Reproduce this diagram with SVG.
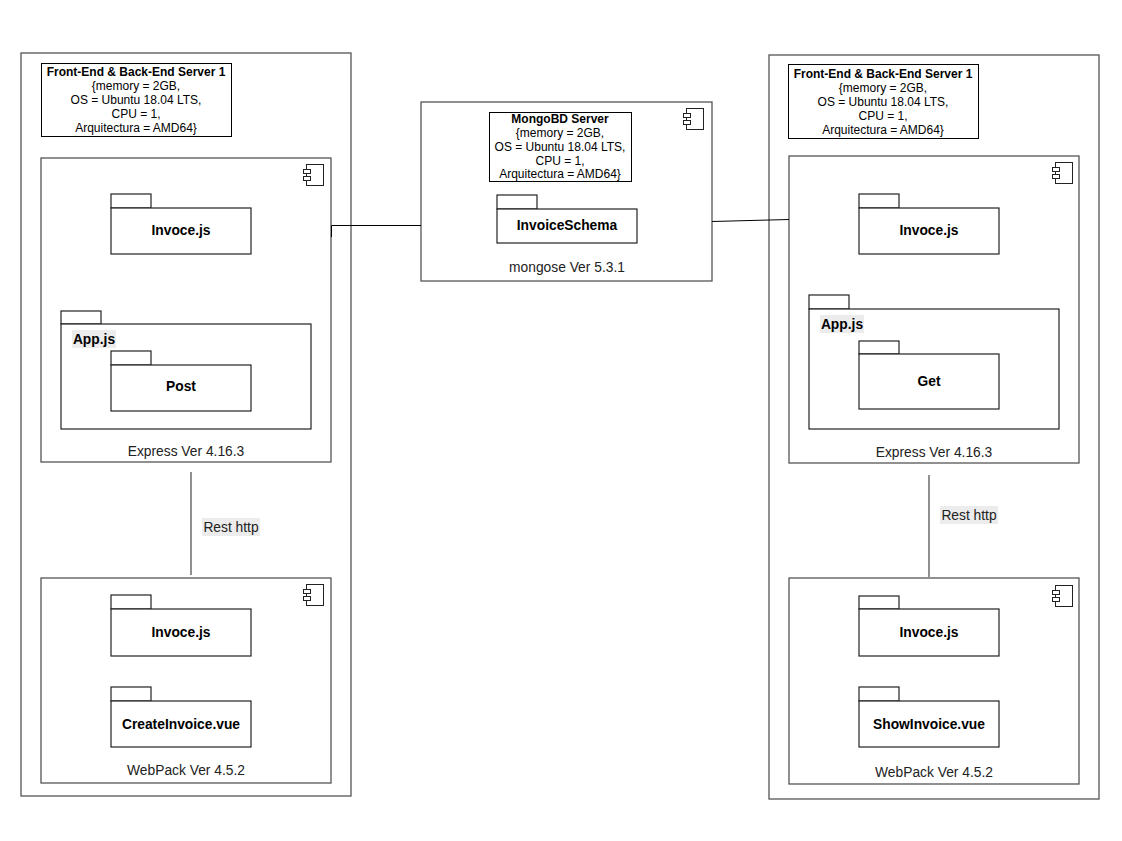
<svg xmlns="http://www.w3.org/2000/svg" xmlns:xlink="http://www.w3.org/1999/xlink" width="1122" height="841" viewBox="0 0 1122 841">
<style>
.node{fill:#fff;stroke:#555;stroke-width:1.3}
.hdr{fill:#fff;stroke:#000;stroke-width:1}
.pkg{fill:#fff;stroke:#222;stroke-width:1.2}
.t{font-family:"Liberation Sans",Arial,sans-serif;font-size:12px;fill:#000;text-anchor:middle;dominant-baseline:central}
.l{font-size:13.8px}
.lg{font-size:13.8px;fill:#222}
.b{font-weight:bold}
.lblbg{fill:#ececec}
.conn{fill:none;stroke:#000;stroke-width:1}
.conn2{fill:none;stroke:#555;stroke-width:1.3}
</style>
<defs>
<g id="icon">
<rect x="3" y="0" width="17" height="21" fill="#fff" stroke="#222" stroke-width="1"/>
<rect x="0" y="5" width="7" height="4" fill="#fff" stroke="#222" stroke-width="1"/>
<rect x="0" y="12" width="7" height="4" fill="#fff" stroke="#222" stroke-width="1"/>
</g>
</defs>
<rect width="1122" height="841" fill="#fff"/>

<g id="left-server">
<rect class="node" x="21" y="53" width="330" height="743"/>
<rect class="hdr" x="41.5" y="63.5" width="190" height="73"/>
<text class="t b" x="136" y="72">Front-End &amp; Back-End Server 1</text>
<text class="t" x="136" y="86">{memory = 2GB,</text>
<text class="t" x="136" y="100">OS = Ubuntu 18.04 LTS,</text>
<text class="t" x="136" y="114">CPU = 1,</text>
<text class="t" x="136" y="128">Arquitectura = AMD64}</text>
</g>

<g id="left-express">
<rect class="node" x="41" y="158" width="290" height="304"/>
<use xlink:href="#icon" x="303.5" y="164.5"/>
<g id="left-invoce">
<rect class="pkg" x="111" y="194" width="40" height="14"/>
<rect class="pkg" x="111" y="208" width="140" height="46"/>
<text class="t l b" x="181" y="230">Invoce.js</text>
</g>
<g id="left-app">
<rect class="pkg" x="61" y="311" width="40" height="13"/>
<rect class="pkg" x="61" y="324" width="250" height="105"/>
<rect class="lblbg" x="72" y="330" width="44" height="18"/>
<text class="t l b" x="94" y="339">App.js</text>
</g>
<g id="left-post">
<rect class="pkg" x="111" y="351" width="40" height="14"/>
<rect class="pkg" x="111" y="365" width="140" height="46"/>
<text class="t l b" x="181" y="386">Post</text>
</g>
<text class="t lg" x="186" y="451">Express Ver 4.16.3</text>
</g>

<g id="left-webpack">
<rect class="node" x="41" y="578" width="290" height="205"/>
<use xlink:href="#icon" x="303.5" y="584.5"/>
<g id="left-invoce2">
<rect class="pkg" x="111" y="595" width="40" height="14"/>
<rect class="pkg" x="111" y="609" width="140" height="47"/>
<text class="t l b" x="181" y="632">Invoce.js</text>
</g>
<g id="left-create">
<rect class="pkg" x="111" y="687" width="40" height="14"/>
<rect class="pkg" x="111" y="701" width="140" height="46"/>
<text class="t l b" x="181" y="724">CreateInvoice.vue</text>
</g>
<text class="t lg" x="186" y="770">WebPack Ver 4.5.2</text>
</g>

<g id="mongo">
<rect class="node" x="421" y="102" width="291" height="179"/>
<rect class="hdr" x="489.5" y="112.5" width="142" height="69"/>
<text class="t b" x="560" y="119">MongoBD Server</text>
<text class="t" x="560" y="133">{memory = 2GB,</text>
<text class="t" x="560" y="147">OS = Ubuntu 18.04 LTS,</text>
<text class="t" x="560" y="161">CPU = 1,</text>
<text class="t" x="560" y="174">Arquitectura = AMD64}</text>
<use xlink:href="#icon" x="683.5" y="108.5"/>
<g id="mongo-schema">
<rect class="pkg" x="497" y="195" width="40" height="14"/>
<rect class="pkg" x="497" y="209" width="140" height="34"/>
<text class="t l b" x="567" y="225">InvoiceSchema</text>
</g>
<text class="t lg" x="567" y="267">mongose Ver 5.3.1</text>
</g>

<g id="right-server">
<rect class="node" x="769" y="55" width="330" height="744"/>
<rect class="hdr" x="788.5" y="64.5" width="190" height="74"/>
<text class="t b" x="883" y="74">Front-End &amp; Back-End Server 1</text>
<text class="t" x="883" y="88">{memory = 2GB,</text>
<text class="t" x="883" y="102">OS = Ubuntu 18.04 LTS,</text>
<text class="t" x="883" y="116">CPU = 1,</text>
<text class="t" x="883" y="130">Arquitectura = AMD64}</text>
</g>

<g id="right-express">
<rect class="node" x="789" y="156" width="290" height="307"/>
<use xlink:href="#icon" x="1052.5" y="162.5"/>
<g id="right-invoce">
<rect class="pkg" x="859" y="194" width="40" height="14"/>
<rect class="pkg" x="859" y="208" width="140" height="46"/>
<text class="t l b" x="929" y="230">Invoce.js</text>
</g>
<g id="right-app">
<rect class="pkg" x="809" y="295" width="40" height="14"/>
<rect class="pkg" x="809" y="309" width="250" height="120"/>
<rect class="lblbg" x="820" y="315" width="44" height="18"/>
<text class="t l b" x="842" y="324">App.js</text>
</g>
<g id="right-get">
<rect class="pkg" x="859" y="341" width="40" height="13"/>
<rect class="pkg" x="859" y="354" width="140" height="55"/>
<text class="t l b" x="929" y="381">Get</text>
</g>
<text class="t lg" x="934" y="452">Express Ver 4.16.3</text>
</g>

<g id="right-webpack">
<rect class="node" x="789" y="578" width="290" height="206"/>
<use xlink:href="#icon" x="1052.5" y="585.5"/>
<g id="right-invoce2">
<rect class="pkg" x="859" y="596" width="40" height="13"/>
<rect class="pkg" x="859" y="609" width="140" height="47"/>
<text class="t l b" x="929" y="632">Invoce.js</text>
</g>
<g id="right-show">
<rect class="pkg" x="859" y="687" width="40" height="14"/>
<rect class="pkg" x="859" y="701" width="140" height="46"/>
<text class="t l b" x="929" y="724">ShowInvoice.vue</text>
</g>
<text class="t lg" x="934" y="772">WebPack Ver 4.5.2</text>
</g>

<g id="connectors">
<path class="conn" d="M331.5,237 L331.5,225.5 L421,225.5"/>
<path class="conn" d="M712,221.5 L789,219.5"/>
<path class="conn2" d="M191,472 L191,575"/>
<rect class="lblbg" x="202" y="518" width="58" height="18"/>
<text class="t lg" x="231" y="527">Rest http</text>
<path class="conn2" d="M929,475 L929,577"/>
<rect class="lblbg" x="940" y="506" width="58" height="18"/>
<text class="t lg" x="969" y="515">Rest http</text>
</g>
</svg>
